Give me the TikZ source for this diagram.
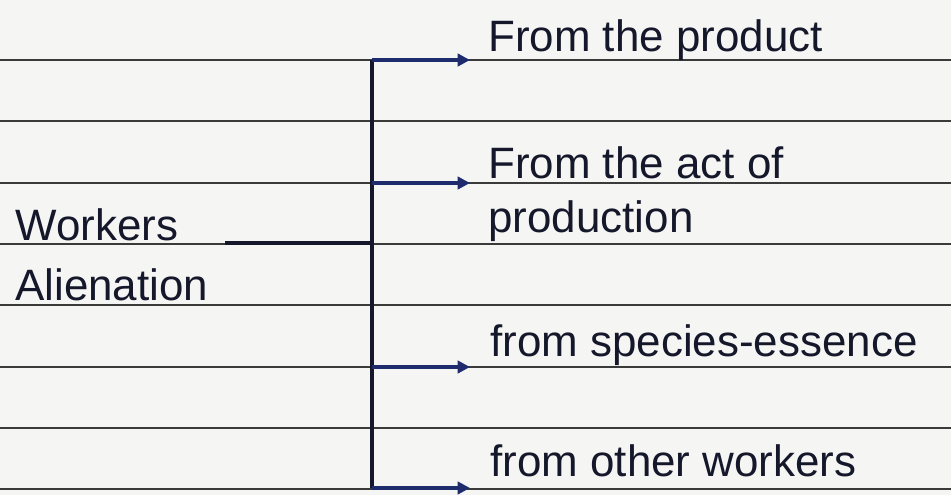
\documentclass[tikz,border=0pt]{standalone}
\usepackage{fontspec}
\setmainfont{Liberation Sans}
\usetikzlibrary{arrows.meta}

\definecolor{paper}{HTML}{F5F5F3}
\definecolor{ruleline}{HTML}{3A3A3A}
\definecolor{ink}{HTML}{15172B}
\definecolor{blueink}{HTML}{1E2C6E}

\tikzset{
  rule/.style={draw=ruleline, line width=0.8pt},
  trunk/.style={draw=ink, line width=2.2pt},
  branch/.style={trunk, -{Triangle[length=7pt,width=7pt]}, blueink},
  label/.style={anchor=base west, inner sep=0pt, text=ink, font=\fontsize{25}{30}\selectfont}
}

\begin{document}
\begin{tikzpicture}[x=0.02cm, y=-0.02cm]
\fill[paper] (0,0) rectangle (951,495);
\useasboundingbox (0,0) rectangle (951,495);

% notebook lines
\foreach \y in {60,121,183,244,305,367,428,489}
  \draw[rule] (0,\y) -- (951,\y);

% left side
\node[label] (workers) at (15,240) {Workers};
\node[label] (alienation) at (15,300) {Alienation};

% tree
\coordinate (stem) at (225,243);
\coordinate (junction) at (372,243);
\coordinate (top) at (372,60);
\coordinate (bottom) at (372,488);
\draw[trunk] (stem) -- (junction);
\draw[trunk] (top) -- (bottom);

\foreach \i/\y in {1/60,2/183,3/367,4/488}{
  \coordinate (b\i) at (372,\y);
  \coordinate (t\i) at (470,\y);
  \draw[branch] (b\i) -- (t\i);
}

% labels
\node[label] (product) at (488,51) {From the product};
\node[label] (act) at (488,178) {From the act of};
\node[label] (production) at (488,232) {production};
\node[label] (species) at (490,356) {from species-essence};
\node[label] (others) at (490,476) {from other workers};
\end{tikzpicture}
\end{document}
